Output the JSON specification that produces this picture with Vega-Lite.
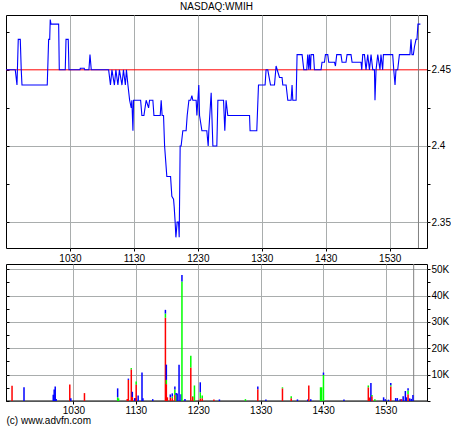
{
  "$schema": "https://vega.github.io/schema/vega-lite/v6.json",
  "background": "white",
  "padding": {"left": 3, "top": 1, "right": 0, "bottom": 0},
  "bounds": "flush",
  "spacing": 16,
  "config": {
    "font": "Liberation Sans",
    "view": {"stroke": "#000000", "strokeWidth": 1},
    "axis": {"labelFont": "Liberation Sans", "labelFontSize": 10, "labelColor": "#000000", "tickColor": "#000000", "domain": false, "gridColor": "#a9adad", "gridOpacity": 1, "titleFont": "Liberation Sans"}
  },
  "datasets": {
    "price": [
      {"t":570,"p":2.45},{"t":578.7,"p":2.45},{"t":580.3,"p":2.44},{"t":581.5,"p":2.47},{"t":583.4,"p":2.47},{"t":584.3,"p":2.45},{"t":585,"p":2.44},{"t":608.7,"p":2.44},{"t":610,"p":2.47},{"t":611,"p":2.47},{"t":611.5,"p":2.483},{"t":612.2,"p":2.48},{"t":619.4,"p":2.48},{"t":620,"p":2.45},{"t":625.6,"p":2.45},{"t":626.3,"p":2.47},{"t":628.4,"p":2.47},{"t":629.1,"p":2.45},{"t":639.4,"p":2.45},{"t":639.7,"p":2.451},{"t":643.4,"p":2.451},{"t":643.8,"p":2.45},{"t":647.8,"p":2.45},{"t":648.8,"p":2.46},{"t":650,"p":2.45},{"t":666.3,"p":2.45},{"t":668,"p":2.44},{"t":669.4,"p":2.45},{"t":671.7,"p":2.44},{"t":673.1,"p":2.45},{"t":675,"p":2.44},{"t":676.4,"p":2.45},{"t":678.8,"p":2.44},{"t":680.2,"p":2.45},{"t":682,"p":2.44},{"t":683,"p":2.45},{"t":684.4,"p":2.44},{"t":686,"p":2.43},{"t":687.5,"p":2.425},{"t":688.1,"p":2.43},{"t":689.1,"p":2.41},{"t":689.7,"p":2.43},{"t":696.3,"p":2.43},{"t":697.5,"p":2.42},{"t":699.4,"p":2.42},{"t":701.5,"p":2.43},{"t":703.8,"p":2.425},{"t":704.7,"p":2.43},{"t":707.8,"p":2.43},{"t":708.8,"p":2.42},{"t":714.7,"p":2.42},{"t":715.6,"p":2.43},{"t":716.5,"p":2.42},{"t":717.8,"p":2.42},{"t":718.8,"p":2.40},{"t":720.9,"p":2.38},{"t":724.4,"p":2.38},{"t":725.6,"p":2.367},{"t":727.2,"p":2.365},{"t":727.8,"p":2.36},{"t":728.7,"p":2.35},{"t":729.4,"p":2.34},{"t":730.6,"p":2.35},{"t":731.9,"p":2.35},{"t":732.5,"p":2.34},{"t":733.4,"p":2.40},{"t":734.3,"p":2.40},{"t":735.9,"p":2.41},{"t":739,"p":2.41},{"t":740,"p":2.42},{"t":741.6,"p":2.43},{"t":743.2,"p":2.43},{"t":744.4,"p":2.433},{"t":745.3,"p":2.43},{"t":748.4,"p":2.43},{"t":749.1,"p":2.42},{"t":750.9,"p":2.44},{"t":751.6,"p":2.42},{"t":753.8,"p":2.41},{"t":758.4,"p":2.41},{"t":759.7,"p":2.40},{"t":760.3,"p":2.41},{"t":762.5,"p":2.435},{"t":764.1,"p":2.40},{"t":767.8,"p":2.40},{"t":768.8,"p":2.43},{"t":774.1,"p":2.43},{"t":775.3,"p":2.41},{"t":776.5,"p":2.43},{"t":778.1,"p":2.42},{"t":798.5,"p":2.42},{"t":799,"p":2.41},{"t":805.3,"p":2.41},{"t":806.9,"p":2.44},{"t":813.1,"p":2.44},{"t":814,"p":2.45},{"t":815.6,"p":2.45},{"t":818.2,"p":2.44},{"t":821.9,"p":2.44},{"t":823.4,"p":2.4525},{"t":826.6,"p":2.445},{"t":829,"p":2.445},{"t":829.7,"p":2.44},{"t":832.8,"p":2.44},{"t":834.4,"p":2.43},{"t":837.5,"p":2.43},{"t":838.4,"p":2.44},{"t":839.1,"p":2.43},{"t":842.2,"p":2.43},{"t":843.1,"p":2.46},{"t":847.8,"p":2.46},{"t":849.4,"p":2.45},{"t":852.2,"p":2.45},{"t":853.1,"p":2.46},{"t":854.1,"p":2.45},{"t":854.7,"p":2.46},{"t":855.7,"p":2.45},{"t":856.2,"p":2.46},{"t":858.5,"p":2.46},{"t":859.4,"p":2.45},{"t":865.6,"p":2.45},{"t":866.5,"p":2.455},{"t":868.8,"p":2.455},{"t":869.7,"p":2.46},{"t":871.9,"p":2.46},{"t":872.8,"p":2.455},{"t":878.2,"p":2.455},{"t":879.1,"p":2.4525},{"t":880.3,"p":2.46},{"t":884.3,"p":2.46},{"t":885.3,"p":2.455},{"t":889,"p":2.455},{"t":890,"p":2.46},{"t":893.7,"p":2.46},{"t":894.7,"p":2.455},{"t":903.1,"p":2.455},{"t":903.8,"p":2.45},{"t":904.7,"p":2.46},{"t":906.3,"p":2.46},{"t":907.8,"p":2.45},{"t":909.4,"p":2.46},{"t":911,"p":2.45},{"t":912.5,"p":2.46},{"t":914.1,"p":2.45},{"t":915.7,"p":2.45},{"t":916.2,"p":2.43},{"t":917.2,"p":2.45},{"t":918.8,"p":2.46},{"t":920.9,"p":2.45},{"t":921.8,"p":2.46},{"t":923.4,"p":2.45},{"t":924.1,"p":2.46},{"t":932.8,"p":2.46},{"t":933.8,"p":2.45},{"t":935,"p":2.44},{"t":935.9,"p":2.45},{"t":937.5,"p":2.45},{"t":939.1,"p":2.46},{"t":949,"p":2.46},{"t":950,"p":2.47},{"t":950.9,"p":2.46},{"t":952.2,"p":2.46},{"t":953.2,"p":2.465},{"t":954.7,"p":2.47},{"t":955.6,"p":2.47},{"t":956.5,"p":2.48},{"t":958.8,"p":2.48}
    ],
    "volume": [
      {"t":571,"side":"bid","v":5800},
      {"t":582.5,"side":"other","v":5200},
      {"t":610.6,"side":"other","v":2400},
      {"t":611.5,"side":"other","v":4400},
      {"t":612.5,"side":"other","v":5500},
      {"t":613.4,"side":"other","v":800},
      {"t":626.5,"side":"bid","v":6300},
      {"t":627.5,"side":"other","v":1000},
      {"t":640.6,"side":"bid","v":3000},
      {"t":672.5,"side":"offer","v":1400},{"t":672.5,"side":"other","v":3400},
      {"t":673.4,"side":"offer","v":1000},
      {"t":681.7,"side":"bid","v":800},
      {"t":682.8,"side":"bid","v":8000},{"t":682.8,"side":"other","v":500},
      {"t":685.6,"side":"bid","v":12000},{"t":685.6,"side":"offer","v":500},
      {"t":686.6,"side":"bid","v":1500},{"t":686.6,"side":"other","v":2000},
      {"t":688.8,"side":"other","v":1100},
      {"t":689.7,"side":"other","v":1100},
      {"t":690.3,"side":"bid","v":6300},{"t":690.3,"side":"offer","v":1100},
      {"t":692.2,"side":"other","v":2100},
      {"t":695.9,"side":"other","v":10800},
      {"t":696.8,"side":"other","v":1000},
      {"t":706.2,"side":"other","v":700},
      {"t":718.4,"side":"bid","v":31600},{"t":718.4,"side":"offer","v":1600},{"t":718.4,"side":"other","v":1400},
      {"t":719.3,"side":"bid","v":6400},{"t":719.3,"side":"offer","v":1600},{"t":719.3,"side":"other","v":5800},
      {"t":720.3,"side":"bid","v":1400},
      {"t":723.1,"side":"bid","v":1400},{"t":723.1,"side":"other","v":1100},
      {"t":725,"side":"bid","v":1100},{"t":725,"side":"offer","v":600},{"t":725,"side":"other","v":1200},
      {"t":727.5,"side":"bid","v":2300},{"t":727.5,"side":"offer","v":2100},{"t":727.5,"side":"other","v":1100},
      {"t":728.7,"side":"offer","v":2300},{"t":728.7,"side":"other","v":700},
      {"t":729.7,"side":"other","v":2800},
      {"t":731.5,"side":"other","v":13800},
      {"t":733.4,"side":"other","v":2600},
      {"t":734.3,"side":"offer","v":45400},{"t":734.3,"side":"other","v":2400},
      {"t":737.2,"side":"other","v":800},
      {"t":742.8,"side":"bid","v":12700},{"t":742.8,"side":"offer","v":4500},
      {"t":744.7,"side":"bid","v":1500},{"t":744.7,"side":"offer","v":300},
      {"t":746.3,"side":"offer","v":5900},
      {"t":751.9,"side":"bid","v":1000},{"t":751.9,"side":"offer","v":2300},{"t":751.9,"side":"other","v":3800},
      {"t":753.8,"side":"bid","v":1000},{"t":753.8,"side":"offer","v":1100},
      {"t":765,"side":"bid","v":600},
      {"t":770.3,"side":"other","v":600},
      {"t":795.3,"side":"offer","v":700},
      {"t":807.2,"side":"bid","v":4500},{"t":807.2,"side":"other","v":1000},
      {"t":815,"side":"other","v":600},
      {"t":830.9,"side":"bid","v":4800},{"t":830.9,"side":"offer","v":400},
      {"t":839.3,"side":"bid","v":1000},{"t":839.3,"side":"offer","v":800},
      {"t":845.3,"side":"other","v":600},
      {"t":855.2,"side":"other","v":600},
      {"t":856.2,"side":"bid","v":5900},
      {"t":858.1,"side":"other","v":700},
      {"t":867.5,"side":"offer","v":5200},
      {"t":868.5,"side":"offer","v":5200},
      {"t":870.3,"side":"offer","v":9900},{"t":870.3,"side":"other","v":900},
      {"t":890,"side":"other","v":600},
      {"t":913.4,"side":"bid","v":5200},{"t":913.4,"side":"offer","v":700},
      {"t":914.8,"side":"bid","v":1300},
      {"t":915.9,"side":"other","v":6800},
      {"t":916.9,"side":"bid","v":1800},{"t":916.9,"side":"offer","v":500},
      {"t":919.7,"side":"offer","v":700},
      {"t":928.1,"side":"other","v":1400},
      {"t":929.7,"side":"other","v":700},
      {"t":932.8,"side":"other","v":500},
      {"t":935,"side":"bid","v":5500},{"t":935,"side":"offer","v":500},{"t":935,"side":"other","v":800},
      {"t":939.7,"side":"other","v":1100},
      {"t":941.3,"side":"other","v":1100},
      {"t":944,"side":"other","v":700},
      {"t":945.3,"side":"bid","v":700},
      {"t":946.9,"side":"other","v":1800},
      {"t":949,"side":"other","v":3800},
      {"t":950,"side":"other","v":1400},
      {"t":951.6,"side":"bid","v":2600},{"t":951.6,"side":"offer","v":1400},{"t":951.6,"side":"other","v":800},
      {"t":953.2,"side":"other","v":1000},
      {"t":954.7,"side":"other","v":800},
      {"t":956.3,"side":"other","v":2300}
    ]
  },
  "vconcat": [
    {
      "width": 421,
      "height": 233,
      "title": {"text": "NASDAQ:WMIH", "fontSize": 10, "fontWeight": "normal", "offset": 3, "font": "Liberation Sans", "color": "#000000"},
      "layer": [
        {
          "data": {"values": [{}]},
          "mark": {"type": "rule", "color": "#ff0000", "strokeWidth": 1},
          "encoding": {
            "y": {"datum": 2.45, "type": "quantitative",
              "axis": {"orient": "left", "values": [2.35, 2.375, 2.4, 2.425, 2.45, 2.475], "labels": false, "grid": false, "domain": false, "tickSize": -3, "title": null}}
          }
        },
        {
          "data": {"values": [{}]},
          "mark": {"type": "rule", "color": "#808080", "strokeWidth": 1},
          "encoding": {"x": {"datum": 957, "type": "quantitative"}}
        },
        {
          "data": {"name": "price"},
          "mark": {"type": "line", "color": "#0000ff", "strokeWidth": 1.1},
          "encoding": {
            "x": {"field": "t", "type": "quantitative",
              "scale": {"domain": [570, 965], "nice": false, "zero": false},
              "axis": {"orient": "bottom", "values": [630, 690, 750, 810, 870, 930], "labelExpr": "floor(datum.value/60)*100 + datum.value % 60", "grid": true, "tickSize": 3, "labelPadding": 2, "title": null, "labelFlush": false}},
            "y": {"field": "p", "type": "quantitative",
              "scale": {"domain": [2.333, 2.486], "nice": false, "zero": false},
              "axis": {"orient": "right", "values": [2.35, 2.375, 2.4, 2.425, 2.45, 2.475], "labelExpr": "round(datum.value*40) % 2 == 0 ? format(datum.value, '.2~f') : ''", "grid": true, "gridOpacity": {"condition": {"test": "round(datum.value*40) == 94 || round(datum.value*40) == 96", "value": 1}, "value": 0}, "tickSize": 3, "labelPadding": 1, "title": null}}
          }
        }
      ],
      "resolve": {"axis": {"y": "independent"}}
    },
    {
      "width": 421,
      "height": 137,
      "layer": [
        {
          "data": {"values": [{}]},
          "mark": {"type": "rule", "color": "#808080", "strokeWidth": 1},
          "encoding": {"x": {"datum": 957, "type": "quantitative"}}
        },
        {
          "data": {"values": [{}]},
          "mark": {"type": "rule", "color": "#000000", "strokeWidth": 1},
          "encoding": {
            "y": {"datum": 0, "type": "quantitative",
              "axis": {"orient": "left", "values": [0, 5000, 10000, 15000, 20000, 25000, 30000, 35000, 40000, 45000, 50000], "labels": false, "grid": false, "domain": false, "tickSize": -3, "title": null}}
          }
        },
        {
          "data": {"name": "volume"},
          "mark": {"type": "bar", "size": 1.5},
          "encoding": {
            "x": {"field": "t", "type": "quantitative",
              "scale": {"domain": [570, 965], "nice": false, "zero": false},
              "axis": {"orient": "bottom", "values": [630, 690, 750, 810, 870, 930], "labelExpr": "floor(datum.value/60)*100 + datum.value % 60", "grid": true, "tickSize": 3, "labelPadding": 1, "labelFlush": false, "title": "(c) www.advfn.com", "titleAnchor": "start", "titleAlign": "left", "titleFontSize": 10, "titleFontWeight": "normal", "titlePadding": 0, "titleColor": "#000000"}},
            "y": {"field": "v", "type": "quantitative", "stack": "zero",
              "scale": {"domain": [0, 52000], "nice": false},
              "axis": {"orient": "right", "values": [0, 5000, 10000, 15000, 20000, 25000, 30000, 35000, 40000, 45000, 50000], "labelExpr": "datum.value % 10000 == 0 && datum.value > 0 ? (datum.value/1000) + 'K' : ''", "grid": true, "gridOpacity": {"condition": {"test": "datum.value % 10000 == 0", "value": 1}, "value": 0}, "tickSize": 3, "labelPadding": 1, "title": null}},
            "color": {"field": "side", "type": "nominal", "scale": {"domain": ["bid", "offer", "other"], "range": ["#ff0000", "#00ff00", "#0000ff"]}, "legend": null},
            "order": {"field": "side", "sort": "ascending"}
          }
        }
      ],
      "resolve": {"axis": {"y": "independent"}}
    }
  ]
}
